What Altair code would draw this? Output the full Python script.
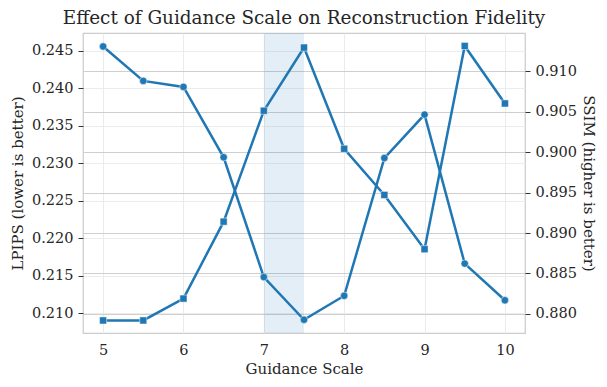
import altair as alt
import pandas as pd

title_text = ["Effect of Guidance Scale on Reconstruction Fidelity"]
guidance = [5.0, 5.5, 6.0, 6.5, 7.0, 7.5, 8.0, 8.5, 9.0, 9.5, 10.0]
lpips = [0.2456, 0.2410, 0.2402, 0.2308, 0.2148, 0.2091, 0.2123, 0.2307, 0.2365, 0.2166, 0.2117]
ssim = [0.8792, 0.8792, 0.8819, 0.8914, 0.9051, 0.9129, 0.9004, 0.8947, 0.8880, 0.9131, 0.9060]
span = [7.0, 7.5]
x_ticks = [5, 6, 7, 8, 9, 10]
lpips_ticks = [0.210, 0.215, 0.220, 0.225, 0.230, 0.235, 0.240, 0.245]
ssim_ticks = [0.880, 0.885, 0.890, 0.895, 0.900, 0.905, 0.910]

df = pd.DataFrame({"g": guidance, "lpips": lpips, "ssim": ssim})
span_df = pd.DataFrame({"x0": [span[0]], "x1": [span[1]]})
title_df = pd.DataFrame({"t": title_text})

BLUE = "#1f77b4"
FONT = "DejaVu Serif"
W, H = 442, 300

xscale = alt.Scale(domain=[4.75, 10.25], nice=False, zero=False)
xaxis = alt.Axis(values=x_ticks, format="d", title="Guidance Scale", grid=True,
                 gridColor="#ebebeb", gridWidth=1, ticks=False, domain=False,
                 labelPadding=10, titleY=35, titleBaseline="middle",
                 titleFont=FONT, titleFontSize=15, labelFont=FONT, labelFontSize=14.5)

shade = alt.Chart(span_df).mark_rect(color=BLUE, opacity=0.12).encode(
    x=alt.X("x0:Q", scale=xscale, axis=xaxis),
    x2="x1:Q",
    y=alt.value(0),
    y2=alt.value(H),
)

title_mark = alt.Chart(title_df).mark_text(
    font=FONT, fontSize=18.4, color="#262626", align="center", baseline="alphabetic"
).encode(text="t:N", x=alt.value(W / 2), y=alt.value(-9))

lscale = alt.Scale(domain=[0.20733, 0.2474], nice=False, zero=False)
laxis = alt.Axis(values=lpips_ticks, format=".3f", title="LPIPS (lower is better)",
                 orient="left", grid=True, gridColor="#ececec", gridWidth=1,
                 tickSize=5, tickColor="#333333", labelPadding=5, domain=False,
                 titleX=-66, titleY=H / 2, titleAngle=-90, titleBaseline="middle",
                 titleAlign="center")
lbase = alt.Chart(df).encode(
    x=alt.X("g:Q", scale=xscale, axis=xaxis),
    y=alt.Y("lpips:Q", scale=lscale, axis=laxis),
)
lline = lbase.mark_line(color=BLUE, strokeWidth=2.5)
lpts = lbase.mark_point(shape="circle", filled=True, size=55, color=BLUE, opacity=1,
                        stroke="white", strokeWidth=0.5)

rscale = alt.Scale(domain=[0.87765, 0.9147], nice=False, zero=False)
raxis = alt.Axis(values=ssim_ticks, format=".3f", title="SSIM (higher is better)",
                 orient="right", grid=True, gridColor="#cfcfcf", gridWidth=1,
                 tickSize=5, tickColor="#333333", labelPadding=5, domain=False,
                 titleX=63, titleY=H / 2, titleAngle=90, titleBaseline="middle",
                 titleAlign="center")
rbase = alt.Chart(df).encode(
    x=alt.X("g:Q", scale=xscale, axis=xaxis),
    y=alt.Y("ssim:Q", scale=rscale, axis=raxis),
)
rline = rbase.mark_line(color=BLUE, strokeWidth=2.5)
rpts = rbase.mark_point(shape="square", filled=True, size=50, color=BLUE, opacity=1,
                        stroke="white", strokeWidth=0.5)

left = alt.layer(shade, lline, lpts, title_mark)
right = alt.layer(rline, rpts)

chart = alt.layer(left, right).resolve_scale(y="independent").properties(
    width=W,
    height=H,
    autosize=alt.AutoSizeParams(type="none"),
    padding={"left": 75, "top": 25, "right": 74, "bottom": 46},
).configure_view(
    stroke="#cccccc", strokeWidth=1.25
).configure_axis(
    labelFont=FONT, titleFont=FONT, labelFontSize=14.5, titleFontSize=15,
    labelColor="#262626", titleColor="#262626", titleFontWeight="normal",
)

chart.save("out.html", embed_options={"renderer": "svg", "actions": False})
